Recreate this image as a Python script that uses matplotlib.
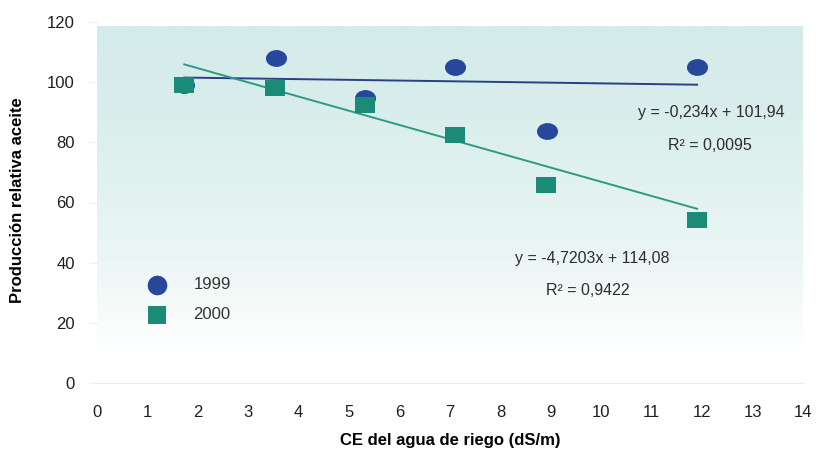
import numpy as np
import matplotlib.pyplot as plt
from matplotlib.path import Path
from matplotlib.transforms import Affine2D
from matplotlib.colors import LinearSegmentedColormap

plt.rcParams['font.family'] = ['Liberation Sans', 'DejaVu Sans']

# CE del agua de riego (dS/m) y producción relativa de aceite (%)
ce_1999 = [1.73, 3.55, 5.32, 7.1, 8.93, 11.9]
prod_1999 = [99, 108, 94.7, 105, 83.7, 105]
ce_2000 = [1.73, 3.53, 5.32, 7.1, 8.9, 11.9]
prod_2000 = [99, 98, 92.3, 82.3, 65.7, 54.3]

# rectas de regresión (pendiente, ordenada)
fit_1999 = (-0.234, 101.94)
fit_2000 = (-4.7203, 114.08)
eq_1999 = ['y = -0,234x + 101,94', 'R² = 0,0095']
eq_2000 = ['y = -4,7203x + 114,08', 'R² = 0,9422']

c_blue = '#27479b'
c_teal = '#1b8a76'
c_line_blue = '#2b3f86'
c_line_teal = '#2f9a82'

fig = plt.figure(figsize=(8.18, 4.55), dpi=100)
ax = fig.add_axes([97 / 818, 1 - 383 / 455, 706 / 818, 361 / 455])
ax.set_xlim(0, 14)
ax.set_ylim(0, 120)

# fondo degradado verde agua -> blanco
cmap = LinearSegmentedColormap.from_list('fondo', [
    (0.0, '#ffffff'), (0.12, '#fdfefe'), (0.35, '#ebf6f4'),
    (0.7, '#dbefed'), (1.0, '#d3ebe9')])
grad = np.linspace(0, 1, 256).reshape(-1, 1)
ax.imshow(grad, cmap=cmap, aspect='auto', origin='lower',
          extent=[0, 14, 0, 118.5], zorder=0)

# marcador elíptico (más ancho que alto)
ellipse = Path.unit_circle().transformed(Affine2D().scale(1.25, 1.0))
rect = Path([(-1.25, -1), (1.25, -1), (1.25, 1), (-1.25, 1), (-1.25, -1)],
            [Path.MOVETO, Path.LINETO, Path.LINETO, Path.LINETO, Path.CLOSEPOLY])

ax.scatter(ce_1999, prod_1999, marker=ellipse, s=230, color=c_blue,
           zorder=3, linewidths=0)
ax.scatter(ce_2000, prod_2000, marker=rect, s=220, color=c_teal,
           zorder=4, linewidths=0)

for xs, (m, b), col in [(ce_1999, fit_1999, c_line_blue),
                        (ce_2000, fit_2000, c_line_teal)]:
    xx = np.array([min(xs), max(xs)])
    ax.plot(xx, m * xx + b, color=col, lw=1.4, zorder=2)

txt = dict(ha='center', va='center', fontsize=11.5, color='#2d2d2d')
ax.text(13.64, 89.8, eq_1999[0], **dict(txt, ha='right'))
ax.text(12.16, 78.8, eq_1999[1], **txt)
ax.text(9.82, 41.3, eq_2000[0], **txt)
ax.text(9.74, 30.7, eq_2000[1], **txt)

h1 = ax.scatter([], [], marker='o', s=200, color=c_blue, linewidths=0)
h2 = ax.scatter([], [], marker='s', s=170, color=c_teal, linewidths=0)
ax.legend([h1, h2], ['1999', '2000'], loc='upper left',
          bbox_to_anchor=(0.04, 0.335), frameon=False, fontsize=12,
          handletextpad=1.2, labelspacing=0.9, labelcolor='#333333')

for s in ['top', 'right', 'left']:
    ax.spines[s].set_visible(False)
ax.spines['bottom'].set_color('#e6ecea')

ax.set_xticks(range(0, 15))
ax.set_yticks(range(0, 121, 20))
ax.tick_params(axis='x', length=0, pad=16, labelsize=12, labelcolor='#1f1f1f')
ax.tick_params(axis='y', length=6, color='#eeeeee', pad=10, labelsize=12,
               labelcolor='#1f1f1f')

fig.text(450 / 818, 1 - 440 / 455, 'CE del agua de riego (dS/m)', ha='center',
         va='center', fontsize=12, fontweight='bold')
fig.text(18 / 818, 1 - 200 / 455, 'Producción relativa aceite', ha='center',
         va='center', rotation=90, fontsize=12, fontweight='bold')

fig.savefig('out.png', dpi=100)
